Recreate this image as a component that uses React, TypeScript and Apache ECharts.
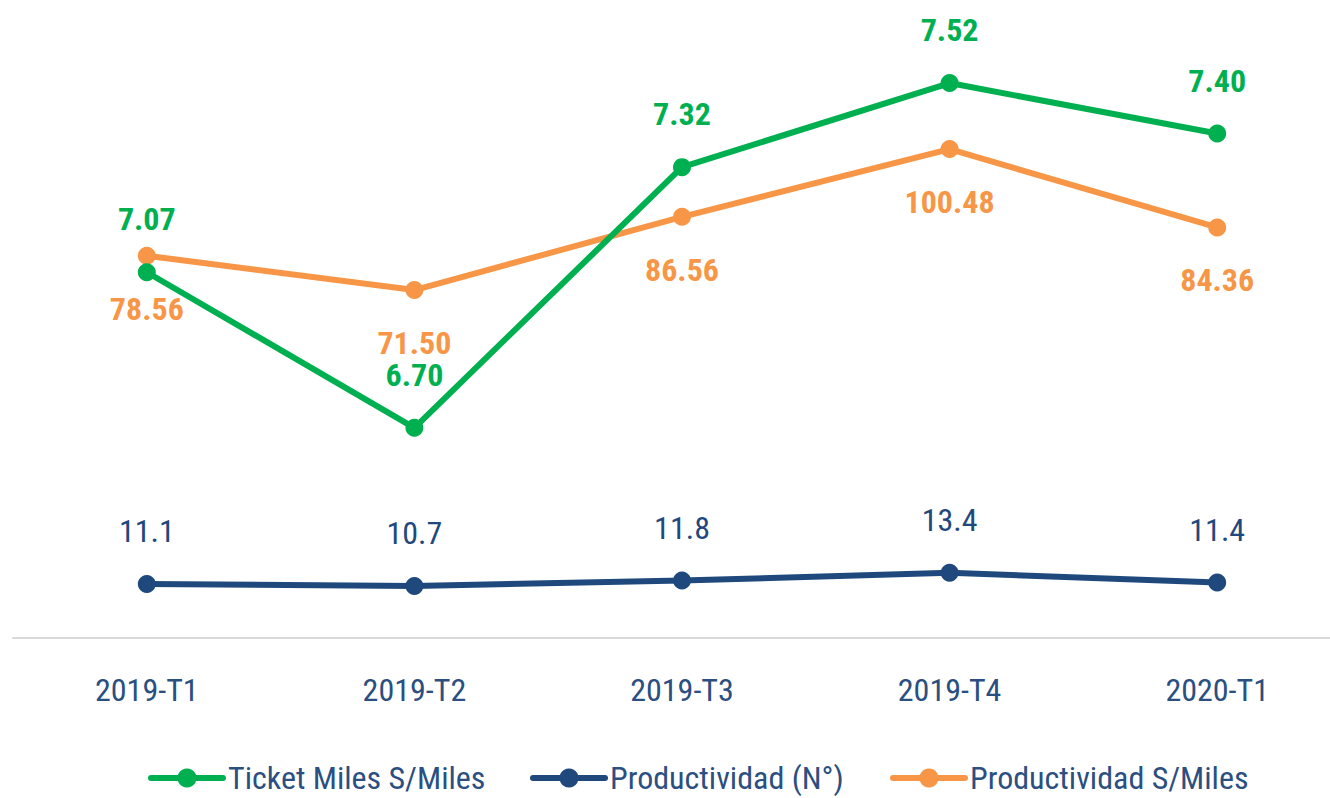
import React, { useEffect, useRef } from "react";
import * as echarts from "echarts";

const categories = ["2019-T1", "2019-T2", "2019-T3", "2019-T4", "2020-T1"];
const ticketMiles = [7.07, 6.7, 7.32, 7.52, 7.4];
const productividadN = [11.1, 10.7, 11.8, 13.4, 11.4];
const productividadSMiles = [78.56, 71.5, 86.56, 100.48, 84.36];
const seriesNames = ["Ticket Miles S/Miles", "Productividad (N°)", "Productividad S/Miles"];

const FONT = "'Liberation Sans Narrow', 'Arial Narrow', 'Roboto Condensed', 'Open Sans', sans-serif";
const GREEN = "#00b050";
const BLUE = "#1f497d";
const ORANGE = "#f79646";
const TEXT = "#2b4f80";

export default function App() {
  const ref = useRef<HTMLDivElement>(null);
  useEffect(() => {
    document.body.style.margin = "0";
    const chart = echarts.init(ref.current!, null, { renderer: "svg" });
    const legendBase = {
      top: 762,
      padding: 0,
      itemWidth: 72,
      itemHeight: 24,
      lineStyle: { width: 6, cap: "round" },
      textStyle: { fontFamily: FONT, fontSize: 32, color: TEXT },
    };
    chart.setOption({
      animation: false,
      backgroundColor: "#ffffff",
      grid: { left: 13, right: -21, top: 20, bottom: 160, outerBoundsMode: "none", containLabel: false },
      legend: [
        { ...legendBase, left: 148, data: [seriesNames[0]] },
        { ...legendBase, left: 530, data: [seriesNames[1]] },
        { ...legendBase, left: 890, data: [seriesNames[2]] },
      ],
      xAxis: {
        type: "category",
        data: categories,
        boundaryGap: true,
        axisLine: { show: true, lineStyle: { color: "#d9d9d9", width: 2 } },
        axisTick: { show: false },
        axisLabel: { margin: 36, fontFamily: FONT, fontSize: 32, color: TEXT },
      },
      yAxis: [
        { type: "value", min: 6.2, max: 7.67, show: false, splitLine: { show: false } },
        { type: "value", min: 0, max: 127, show: false, splitLine: { show: false } },
      ],
      series: [
        {
          name: seriesNames[0],
          type: "line",
          yAxisIndex: 0,
          data: ticketMiles,
          color: GREEN,
          symbol: "circle",
          symbolSize: 18,
          lineStyle: { width: 6, color: GREEN },
          itemStyle: { color: GREEN },
          label: {
            show: true,
            position: "top",
            distance: 28,
            fontFamily: FONT,
            fontSize: 32,
            fontWeight: "bold",
            color: GREEN,
            formatter: (p: any) => p.value.toFixed(2),
          },
          z: 3,
        },
        {
          name: seriesNames[1],
          type: "line",
          yAxisIndex: 1,
          data: productividadN,
          color: BLUE,
          symbol: "circle",
          symbolSize: 18,
          lineStyle: { width: 6, color: BLUE },
          itemStyle: { color: BLUE },
          label: {
            show: true,
            position: "top",
            distance: 28,
            fontFamily: FONT,
            fontSize: 32,
            color: BLUE,
            formatter: (p: any) => p.value.toFixed(1),
          },
        },
        {
          name: seriesNames[2],
          type: "line",
          yAxisIndex: 1,
          data: productividadSMiles,
          color: ORANGE,
          symbol: "circle",
          symbolSize: 18,
          lineStyle: { width: 6, color: ORANGE },
          itemStyle: { color: ORANGE },
          label: {
            show: true,
            position: "bottom",
            distance: 28,
            fontFamily: FONT,
            fontSize: 32,
            fontWeight: "bold",
            color: ORANGE,
            formatter: (p: any) => p.value.toFixed(2),
          },
          z: 2,
        },
      ],
    });
    return () => chart.dispose();
  }, []);
  return <div ref={ref} style={{ width: 1330, height: 798, position: "absolute", left: 0, top: 0 }} />;
}
